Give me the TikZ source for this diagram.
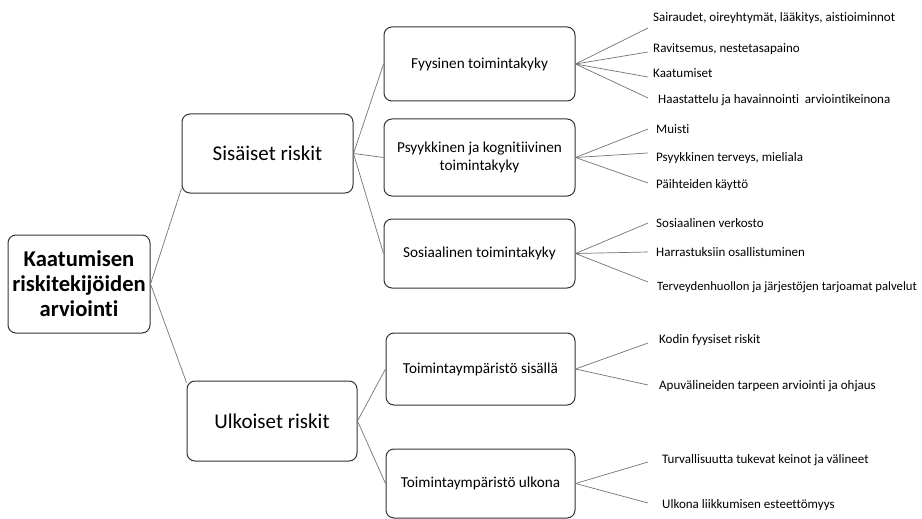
\documentclass[tikz,border=0pt]{standalone}
\usepackage{fontspec}
\setmainfont{Carlito}[Ligatures={NoCommon,NoContextual},Contextuals=NoAlternate]
\begin{document}
\begin{tikzpicture}[x=1pt,y=-1pt,
  box/.style={draw=black!80,line width=1pt,rounded corners=8pt,align=center,inner sep=0pt},
  rootbox/.style={box,font=\fontsize{22.6}{25}\selectfont\bfseries},
  topbox/.style={box,font=\fontsize{21}{25}\selectfont},
  midbox/.style={box,font=\fontsize{15.2}{18}\selectfont},
  leaf/.style={anchor=west,inner sep=0pt,font=\fontsize{13}{15}\selectfont},
  link/.style={draw=black!55,line width=0.7pt}]
\useasboundingbox (0,0) rectangle (922,519);

% boxes
\node[rootbox,minimum width=142,minimum height=98] (root) at (79,284) {Kaatumisen\\riskitekijöiden\\arviointi};
\node[topbox,minimum width=171,minimum height=79] (sis) at (267.5,153.5) {Sisäiset riskit};
\node[topbox,minimum width=170,minimum height=80] (ulk) at (272,421) {Ulkoiset riskit};
\node[midbox,minimum width=191,minimum height=74] (fyy) at (479.5,64) {Fyysinen toimintakyky};
\node[midbox,minimum width=191,minimum height=77] (psy) at (479.5,157.5) {Psyykkinen ja kognitiivinen\\toimintakyky};
\node[midbox,minimum width=191,minimum height=69] (sos) at (479.5,253.5) {Sosiaalinen toimintakyky};
\node[midbox,minimum width=189,minimum height=72] (sisa) at (480.5,369) {Toimintaympäristö sisällä};
\node[midbox,minimum width=189,minimum height=69] (ulko) at (480.5,483.5) {Toimintaympäristö ulkona};

% root branches
\draw[link] (root.east) -- ([yshift=5pt]sis.south west);
\draw[link] (root.east) -- ([yshift=-2pt]ulk.north west);
\draw[link] (sis.east) -- (fyy.west);
\draw[link] (sis.east) -- (psy.west);
\draw[link] (sis.east) -- (sos.west);
\draw[link] (ulk.east) -- (sisa.west);
\draw[link] (ulk.east) -- (ulko.west);

% leaf line ends
\coordinate (f1) at (648,28);
\coordinate (f2) at (648,52);
\coordinate (f3) at (648,77);
\coordinate (f4) at (648,98);
\coordinate (p1) at (648,129);
\coordinate (p2) at (648,153);
\coordinate (p3) at (648,183);
\coordinate (s1) at (648,223);
\coordinate (s2) at (648,252);
\coordinate (s3) at (648,282);
\coordinate (i1) at (648,343);
\coordinate (i2) at (648,385);
\coordinate (u1) at (648,462);
\coordinate (u2) at (648,503);

\foreach \c in {f1,f2,f3,f4} \draw[link] (fyy.east) -- (\c);
\foreach \c in {p1,p2,p3} \draw[link] (psy.east) -- (\c);
\foreach \c in {s1,s2,s3} \draw[link] (sos.east) -- (\c);
\foreach \c in {i1,i2} \draw[link] (sisa.east) -- (\c);
\foreach \c in {u1,u2} \draw[link] (ulko.east) -- (\c);

% leaf texts
\node[leaf] (tf1) at (653,18) {Sairaudet, oireyhtymät, lääkitys, aistioiminnot};
\node[leaf] (tf2) at (653,49) {Ravitsemus, nestetasapaino};
\node[leaf] (tf3) at (653,73) {Kaatumiset};
\node[leaf] (tf4) at (658,100) {Haastattelu ja havainnointi\ \ arviointikeinona};
\node[leaf] (tp1) at (656,129) {Muisti};
\node[leaf] (tp2) at (656,158) {Psyykkinen terveys, mieliala};
\node[leaf] (tp3) at (656,185) {Päihteiden käyttö};
\node[leaf] (ts1) at (656,223) {Sosiaalinen verkosto};
\node[leaf] (ts2) at (656,252) {Harrastuksiin osallistuminen};
\node[leaf,font=\fontsize{12.7}{15}\selectfont] (ts3) at (657,287) {Terveydenhuollon ja järjestöjen tarjoamat palvelut};
\node[leaf] (ti1) at (659,340) {Kodin fyysiset riskit};
\node[leaf] (ti2) at (659,386) {Apuvälineiden tarpeen arviointi ja ohjaus};
\node[leaf] (tu1) at (662,460) {Turvallisuutta tukevat keinot ja välineet};
\node[leaf] (tu2) at (662,505) {Ulkona liikkumisen esteettömyys};
\end{tikzpicture}
\end{document}
